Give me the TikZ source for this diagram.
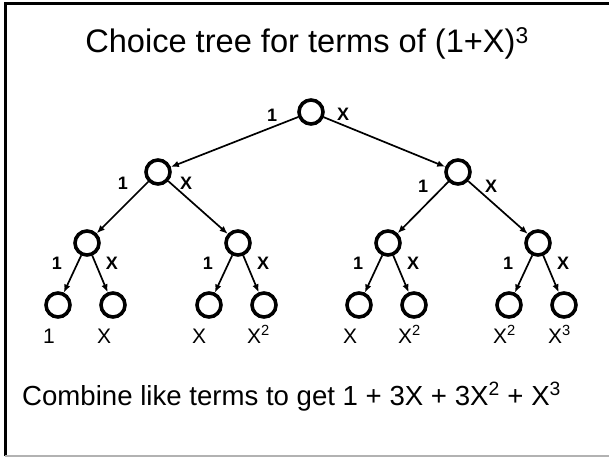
\documentclass[tikz,border=0pt]{standalone}
\usepackage{fontspec}
\setmainfont{Liberation Sans}
\usetikzlibrary{arrows.meta}
\begin{document}
\begin{tikzpicture}[x=1pt,y=-1pt,
  vtx/.style={circle,draw,line width=3.6pt,minimum size=24pt,inner sep=0pt},
  arr/.style={line width=1.7pt,-{Latex[length=8pt,width=6.5pt]}},
  elab/.style={font=\fontsize{18}{20}\selectfont\bfseries,inner sep=0pt},
  llab/.style={font=\fontsize{21}{23}\selectfont,inner sep=0pt,anchor=base west},
  frame/.style={line width=3pt},
]
\useasboundingbox (0,0) rectangle (609,457);
\draw[frame] (5,456) -- (5,3.5) -- (609,3.5);
\draw[black!30, line width=1.5pt] (5,456) -- (609,456);

% title and bottom text
\node[inner sep=0pt, anchor=base, font=\fontsize{32.6}{36}\selectfont] (title) at (307,53) {Choice tree for terms of (1+X)\textsuperscript{3}};
\node[inner sep=0pt, anchor=base west, font=\fontsize{27.6}{30}\selectfont] (combine) at (22,405) {Combine like terms to get 1 + 3X + 3X\textsuperscript{2} + X\textsuperscript{3}};

% tree nodes
\node[vtx] (r) at (311,112) {};
\node[vtx] (a) at (158,172) {};
\node[vtx] (b) at (458,172) {};
\node[vtx] (aa) at (87,243) {};
\node[vtx] (ab) at (238,243) {};
\node[vtx] (ba) at (388,243) {};
\node[vtx] (bb) at (538,243) {};
\foreach \p/\x in {aa/87, ab/238, ba/388, bb/538}{
  \node[vtx] (\p1) at (\x-29,305) {};
  \node[vtx] (\p2) at (\x+26,305) {};
}

% connectors
\draw[arr] (r) -- (a);
\draw[arr] (r) -- (b);
\draw[arr] (a) -- (aa);
\draw[arr] (a) -- (ab);
\draw[arr] (b) -- (ba);
\draw[arr] (b) -- (bb);
\foreach \p in {aa,ab,ba,bb}{
  \draw[arr] (\p) -- (\p1);
  \draw[arr] (\p) -- (\p2);
}

% edge labels
\node[elab] (lr1) at (272,115) {1};
\node[elab] (lrx) at (343,114) {X};
\node[elab] (la1) at (123,183) {1};
\node[elab] (lax) at (186,183) {X};
\node[elab] (lb1) at (423,186) {1};
\node[elab] (lbx) at (491,186) {X};
\foreach \p/\x in {aa/87, ab/238, ba/388, bb/538}{
  \node[elab] (l\p1) at (\x-30,263) {1};
  \node[elab] (l\p x) at (\x+25,263) {X};
}

% leaf labels
\node[llab] (t1) at (43,343) {1};
\node[llab] (t2) at (97,343) {X};
\node[llab] (t3) at (192,343) {X};
\node[llab] (t4) at (247,343) {X\textsuperscript{2}};
\node[llab] (t5) at (343,343) {X};
\node[llab] (t6) at (398,343) {X\textsuperscript{2}};
\node[llab] (t7) at (493,343) {X\textsuperscript{2}};
\node[llab] (t8) at (548,343) {X\textsuperscript{3}};
\end{tikzpicture}
\end{document}
